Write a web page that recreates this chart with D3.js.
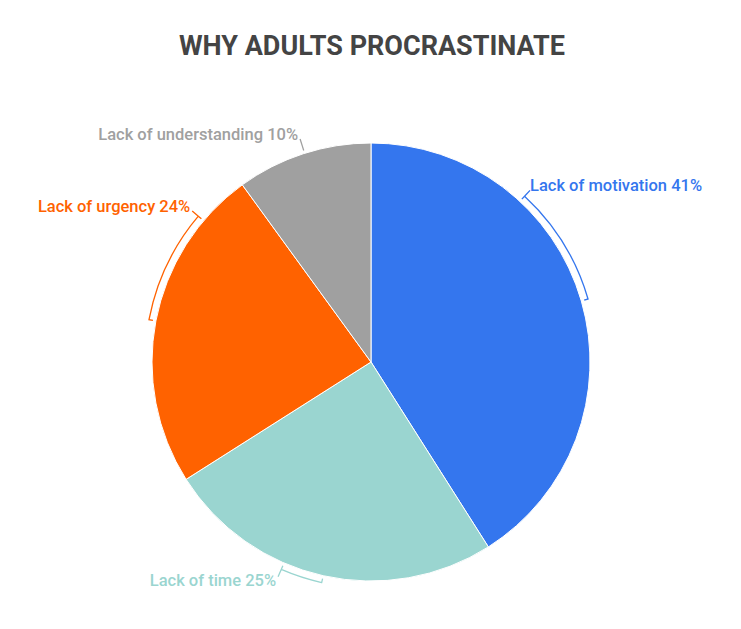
<!DOCTYPE html>
<html>
<head>
<meta charset="utf-8">
<script src="https://cdn.jsdelivr.net/npm/d3@7"></script>
<style>
  body { margin: 0; background: #fff; }
  text { font-family: Roboto, "Noto Sans", sans-serif; }
</style>
</head>
<body>
<div id="chart"></div>
<script>
// 数据
const categories = ["Lack of motivation", "Lack of time", "Lack of urgency", "Lack of understanding"];
const values = [41, 25, 24, 10];
const colors = ["#3476ee", "#9ad5d0", "#ff6200", "#a0a0a0"];

// 标注括号的位置（相对每个扇区的比例：引线端，另一端）
const bracketSpan = [[0.29, 0.50], [0.62, 0.50], [0.84, 0.50], [0.51, 0.51]];

const width = 741, height = 629;
const cx = 371, cy = 362, radius = 219;

const svg = d3.select("#chart").append("svg")
    .attr("width", width)
    .attr("height", height);

// 标题
svg.append("text")
    .attr("x", 372)
    .attr("y", 55)
    .attr("text-anchor", "middle")
    .attr("font-size", 27)
    .attr("font-weight", 700)
    .attr("fill", "#444")
    .text("WHY ADULTS PROCRASTINATE");

const pie = d3.pie().sort(null).value(d => d);
const arcs = pie(values);
const arc = d3.arc().innerRadius(0).outerRadius(radius);

const g = svg.append("g").attr("transform", `translate(${cx},${cy})`);

g.selectAll("path.slice")
    .data(arcs)
    .join("path")
    .attr("class", "slice")
    .attr("d", arc)
    .attr("fill", (d, i) => colors[i])
    .attr("stroke", "#fff")
    .attr("stroke-width", 1);

// 极坐标转换
const pt = (a, r) => [r * Math.sin(a), -r * Math.cos(a)];

arcs.forEach((d, i) => {
    const span = d.endAngle - d.startAngle;
    const a0 = d.startAngle + span * bracketSpan[i][0];
    const a1 = d.startAngle + span * bracketSpan[i][1];
    const rb = radius + 7, rt = radius + 3, rl = radius + 15;

    const p0 = pt(a0, rb), p1 = pt(a1, rb);
    const t0 = pt(a0, rt), t1 = pt(a1, rt);
    const lead = pt(a0, rl);

    const path = d3.path();
    path.moveTo(lead[0], lead[1]);
    path.lineTo(p0[0], p0[1]);
    if (Math.abs(a1 - a0) > 0.001) {
        path.lineTo(t0[0], t0[1]);
        path.moveTo(p0[0], p0[1]);
        path.arc(0, 0, rb, a0 - Math.PI / 2, a1 - Math.PI / 2, a1 < a0);
        path.lineTo(t1[0], t1[1]);
    } else {
        path.lineTo(t0[0], t0[1]);
    }

    g.append("path")
        .attr("d", path.toString())
        .attr("fill", "none")
        .attr("stroke", colors[i])
        .attr("stroke-width", 1.3);

    const right = Math.sin(a0) > 0;
    const lower = Math.cos(a0) < 0;
    g.append("text")
        .attr("x", lead[0] + (right ? 0 : -2))
        .attr("y", lead[1] + (lower ? 9 : 1))
        .attr("text-anchor", right ? "start" : "end")
        .attr("font-size", 16.5)
        .attr("font-weight", 500)
        .attr("fill", colors[i])
        .text(`${categories[i]} ${values[i]}%`);
});
</script>
</body>
</html>
